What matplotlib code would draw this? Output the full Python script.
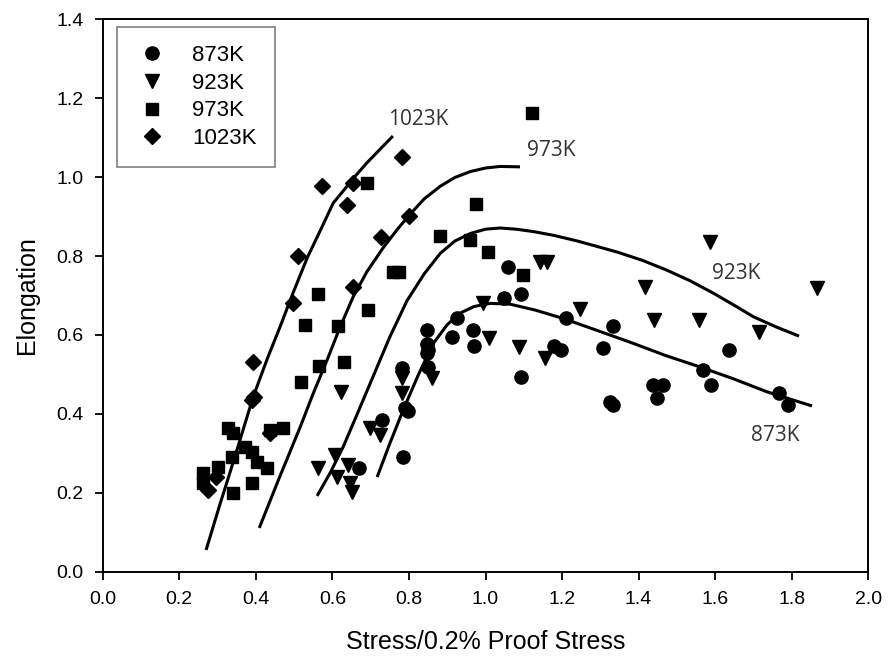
import matplotlib.pyplot as plt

# scatter data
x_873 = [0.785, 0.729, 0.790, 0.798, 0.781, 0.851, 0.846, 0.851, 0.846, 0.846,
         0.912, 0.926, 0.968, 0.970, 1.047, 1.092, 1.060, 1.092, 1.179, 1.197,
         1.210, 1.306, 1.332, 1.325, 1.334, 1.438, 1.463, 1.449, 1.567, 1.589,
         1.635, 1.768, 1.791, 0.670]
y_873 = [0.291, 0.384, 0.414, 0.408, 0.515, 0.520, 0.553, 0.562, 0.578, 0.613,
         0.594, 0.642, 0.613, 0.572, 0.693, 0.703, 0.773, 0.494, 0.572, 0.563,
         0.642, 0.566, 0.623, 0.431, 0.422, 0.473, 0.473, 0.441, 0.511, 0.473,
         0.563, 0.454, 0.422, 0.264]

x_923 = [0.650, 0.646, 0.642, 0.611, 0.607, 0.563, 0.622, 0.698, 0.724, 0.781,
         0.781, 0.859, 0.994, 1.010, 1.088, 1.155, 1.142, 1.160, 1.247, 1.417,
         1.440, 1.557, 1.586, 1.715, 1.865]
y_923 = [0.203, 0.224, 0.270, 0.241, 0.296, 0.262, 0.456, 0.363, 0.346, 0.490,
         0.452, 0.490, 0.680, 0.591, 0.570, 0.541, 0.786, 0.786, 0.667, 0.722,
         0.638, 0.638, 0.836, 0.608, 0.718]

x_973 = [0.263, 0.263, 0.302, 0.337, 0.341, 0.328, 0.341, 0.372, 0.389, 0.402,
         0.389, 0.428, 0.437, 0.472, 0.517, 0.528, 0.563, 0.565, 0.615, 0.629,
         0.692, 0.757, 0.775, 0.691, 0.882, 0.975, 0.960, 1.007, 1.099, 1.122]
y_973 = [0.249, 0.224, 0.266, 0.291, 0.200, 0.365, 0.351, 0.317, 0.304, 0.279,
         0.224, 0.264, 0.359, 0.365, 0.482, 0.625, 0.704, 0.522, 0.623, 0.532,
         0.663, 0.760, 0.760, 0.984, 0.850, 0.931, 0.840, 0.810, 0.752, 1.162]

x_1023 = [0.276, 0.297, 0.389, 0.395, 0.392, 0.437, 0.498, 0.511, 0.655, 0.637,
          0.572, 0.655, 0.782, 0.801, 0.727]
y_1023 = [0.207, 0.241, 0.435, 0.443, 0.532, 0.351, 0.680, 0.800, 0.722, 0.929,
          0.978, 0.984, 1.050, 0.901, 0.848]

# fitted curves
fx_1023 = [0.270, 0.305, 0.340, 0.393, 0.430, 0.463, 0.497, 0.534, 0.570, 0.602,
           0.630, 0.654, 0.690, 0.724, 0.758]
fy_1023 = [0.055, 0.167, 0.275, 0.443, 0.540, 0.620, 0.706, 0.795, 0.868, 0.934,
           0.967, 0.996, 1.036, 1.070, 1.104]

fx_973 = [0.409, 0.460, 0.516, 0.550, 0.586, 0.620, 0.654, 0.690, 0.732, 0.770,
          0.803, 0.840, 0.882, 0.920, 0.960, 1.000, 1.038, 1.090]
fy_973 = [0.111, 0.235, 0.367, 0.452, 0.536, 0.620, 0.696, 0.760, 0.820, 0.868,
          0.906, 0.945, 0.977, 0.999, 1.014, 1.023, 1.027, 1.026]

fx_923 = [0.560, 0.595, 0.628, 0.665, 0.706, 0.750, 0.795, 0.840, 0.882, 0.920,
          0.960, 1.000, 1.038, 1.080, 1.125, 1.180, 1.240, 1.300, 1.344, 1.410,
          1.474, 1.535, 1.595, 1.650, 1.700, 1.760, 1.819]
fy_923 = [0.192, 0.252, 0.316, 0.400, 0.494, 0.595, 0.687, 0.755, 0.807, 0.838,
          0.857, 0.868, 0.871, 0.868, 0.862, 0.852, 0.838, 0.822, 0.810, 0.789,
          0.764, 0.737, 0.706, 0.675, 0.646, 0.620, 0.597]

fx_873 = [0.717, 0.750, 0.785, 0.825, 0.864, 0.900, 0.933, 0.970, 1.012, 1.064,
          1.130, 1.202, 1.290, 1.385, 1.470, 1.560, 1.650, 1.735, 1.853]
fy_873 = [0.240, 0.325, 0.410, 0.500, 0.579, 0.626, 0.655, 0.672, 0.680, 0.678,
          0.663, 0.642, 0.612, 0.579, 0.548, 0.519, 0.488, 0.456, 0.420]

labels = ['873K', '923K', '973K', '1023K']
curve_labels = [('1023K', 0.745, 1.147), ('973K', 1.108, 1.067),
                ('923K', 1.593, 0.756), ('873K', 1.693, 0.344)]

plt.rcParams['font.family'] = ['Liberation Sans', 'DejaVu Sans']

fig = plt.figure(figsize=(8.88, 6.64), dpi=100)
ax = fig.add_axes([0.1157, 0.139, 0.8621, 0.832])

ax.plot(x_873, y_873, 'o', color='black', markersize=9.5, linestyle='none', label=labels[0])
ax.plot(x_923, y_923, 'v', color='black', markersize=10, linestyle='none', label=labels[1])
ax.plot(x_973, y_973, 's', color='black', markersize=8.5, linestyle='none', label=labels[2])
ax.plot(x_1023, y_1023, 'D', color='black', markersize=8, linestyle='none', label=labels[3])

for fx, fy in [(fx_1023, fy_1023), (fx_973, fy_973), (fx_923, fy_923), (fx_873, fy_873)]:
    ax.plot(fx, fy, color='black', linewidth=2.2, solid_capstyle='butt', solid_joinstyle='round')

for txt, tx, ty in curve_labels:
    ax.text(tx, ty, txt, fontsize=15, color='#333333', va='center', ha='left',
            family=['Open Sans', 'DejaVu Sans'])

ax.set_xlim(0, 2.0)
ax.set_ylim(0, 1.4)
ax.set_xticks([0.0, 0.2, 0.4, 0.6, 0.8, 1.0, 1.2, 1.4, 1.6, 1.8, 2.0])
ax.set_yticks([0.0, 0.2, 0.4, 0.6, 0.8, 1.0, 1.2, 1.4])
ax.set_xticklabels(['%.1f' % v for v in ax.get_xticks()])
ax.set_yticklabels(['%.1f' % v for v in ax.get_yticks()])
ax.tick_params(direction='out', length=6, width=1.3, labelsize=14, pad=8)
for s in ax.spines.values():
    s.set_linewidth(1.4)

ax.set_xlabel('Stress/0.2% Proof Stress', fontsize=18, labelpad=16)
ax.set_ylabel('Elongation', fontsize=18, labelpad=12)

leg = ax.legend(loc='upper left', bbox_to_anchor=(0.0183, 0.9855), borderaxespad=0,
                fontsize=16, frameon=True, fancybox=False, framealpha=1,
                edgecolor='#808080', handletextpad=1.0, labelspacing=0.3,
                borderpad=0.8, handlelength=1.6)
leg.get_frame().set_linewidth(1.2)

fig.savefig('out.png', dpi=100)
